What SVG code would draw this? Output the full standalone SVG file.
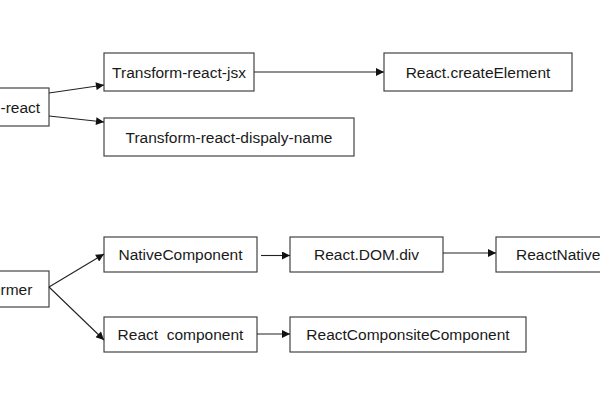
<svg xmlns="http://www.w3.org/2000/svg" width="600" height="400" viewBox="0 0 600 400">
<defs>
<marker id="ah" viewBox="0 0 10 10" refX="10" refY="5" markerWidth="10" markerHeight="8" markerUnits="userSpaceOnUse" orient="auto">
<path d="M0,0 L10,5 L0,10 z" fill="#111"/>
</marker>
<style>
.box{fill:#fff;stroke:#444;stroke-width:1.2}
.t{font-family:"Liberation Sans",Arial,sans-serif;font-size:15.5px;fill:#1a1a1a;dominant-baseline:central}
.c{text-anchor:middle}
.e{stroke:#222;stroke-width:1.1;fill:none;marker-end:url(#ah)}
</style>
</defs>
<rect width="600" height="400" fill="#fff"/>
<g id="preset-react"><rect class="box" x="-80" y="88" width="129" height="38"/><text class="t" x="0.5" y="107">-react</text></g>
<g id="jsx"><rect class="box" x="104" y="53" width="150" height="38"/><text class="t c" x="179" y="72">Transform-react-jsx</text></g>
<g id="create"><rect class="box" x="384" y="53" width="188" height="38"/><text class="t c" x="478" y="72">React.createElement</text></g>
<g id="displayname"><rect class="box" x="104" y="118" width="250" height="38"/><text class="t c" x="229" y="137">Transform-react-dispaly-name</text></g>
<g id="transformer"><rect class="box" x="-80" y="271" width="129" height="36"/><text class="t" x="0.5" y="289">rmer</text></g>
<g id="native"><rect class="box" x="104" y="237" width="153" height="35"/><text class="t c" x="180.5" y="254.5">NativeComponent</text></g>
<g id="domdiv"><rect class="box" x="290" y="237" width="153" height="35"/><text class="t c" x="366.5" y="254.5">React.DOM.div</text></g>
<g id="rnbase"><rect class="box" x="496" y="237" width="140" height="35"/><text class="t" x="516" y="254.5">ReactNative</text></g>
<g id="reactcomp"><rect class="box" x="104" y="317" width="153" height="35"/><text class="t c" x="180.5" y="334.5" style="white-space:pre">React  component</text></g>
<g id="composite"><rect class="box" x="290" y="317" width="236" height="35"/><text class="t c" x="408" y="334.5">ReactComponsiteComponent</text></g>
<g id="connectors">
<path class="e" d="M49,93 L104,85"/>
<path class="e" d="M49,116 L104,122"/>
<path class="e" d="M254,72 L384,72"/>
<path class="e" d="M49,287 L104,254"/>
<path class="e" d="M49,287 L104,340"/>
<path class="e" d="M261,255.5 L290,255.5"/>
<path class="e" d="M443,253 L496,253"/>
<path class="e" d="M257,334 L290,334"/>
</g>
</svg>
